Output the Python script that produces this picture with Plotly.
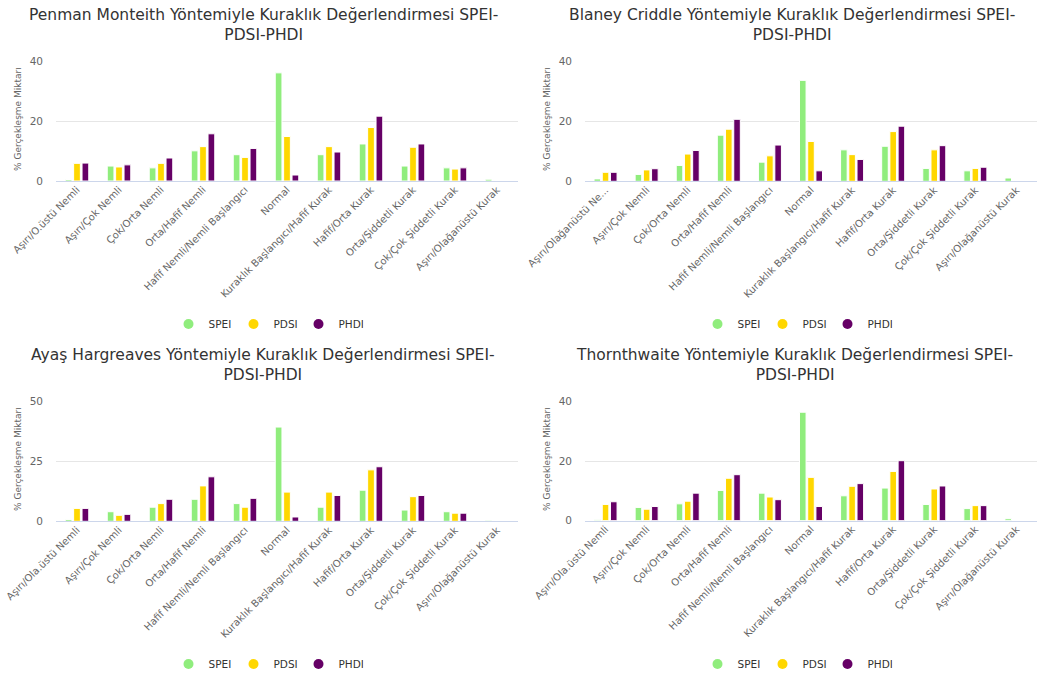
import plotly.graph_objects as go

W, H = 1038, 677

# ---------------- data ----------------
cats_common = ["Aşırı/Çok Nemli", "Çok/Orta Nemli", "Orta/Hafif Nemli",
               "Hafif Nemli/Nemli Başlangıcı", "Normal",
               "Kuraklık Başlangıcı/Hafif Kurak", "Hafif/Orta Kurak",
               "Orta/Şiddetli Kurak", "Çok/Çok Şiddetli Kurak",
               "Aşırı/Olağanüstü Kurak"]
cats_pm = ["Aşırı/O.üstü Nemli"] + cats_common
cats_bc = ["Aşırı/Olağanüstü Ne..."] + cats_common
cats_ah = ["Aşırı/Ola.üstü Nemli"] + cats_common
cats_th = ["Aşırı/Ola.üstü Nemli"] + cats_common

pm_spei = [0.5, 5.0, 4.4, 10.1, 8.8, 36.2, 8.8, 12.4, 5.0, 4.4, 0.6]
pm_pdsi = [5.9, 4.7, 5.9, 11.5, 7.9, 14.9, 11.5, 17.9, 11.3, 4.0, None]
pm_phdi = [6.0, 5.4, 7.7, 15.8, 10.9, 2.0, 9.7, 21.7, 12.4, 4.4, None]

bc_spei = [0.8, 2.3, 5.3, 15.4, 6.4, 33.7, 10.5, 11.7, 4.3, 3.5, 1.1]
bc_pdsi = [3.0, 3.8, 9.1, 17.4, 8.5, 13.3, 8.9, 16.6, 10.5, 4.3, None]
bc_phdi = [3.0, 4.2, 10.3, 20.7, 12.1, 3.5, 7.3, 18.4, 11.9, 4.7, None]

ah_spei = [0.7, 4.0, 5.9, 9.2, 7.4, 39.4, 5.9, 13.0, 4.7, 4.0, 0.4]
ah_pdsi = [5.4, 2.5, 7.4, 14.8, 5.9, 12.2, 12.2, 21.5, 10.3, 3.4, None]
ah_phdi = [5.4, 2.9, 9.2, 18.6, 9.6, 1.8, 10.8, 22.8, 10.8, 3.4, None]

th_spei = [0.3, 4.4, 5.6, 10.1, 9.2, 36.4, 8.3, 10.9, 5.4, 4.0, 0.6]
th_pdsi = [5.4, 3.8, 6.5, 14.2, 7.9, 14.5, 11.5, 16.5, 10.6, 5.0, None]
th_phdi = [6.3, 4.7, 9.2, 15.4, 7.0, 4.7, 12.4, 20.1, 11.6, 5.0, None]

titles = [
    "Penman Monteith Yöntemiyle Kuraklık Değerlendirmesi SPEI-<br>PDSI-PHDI",
    "Blaney Criddle Yöntemiyle Kuraklık Değerlendirmesi SPEI-<br>PDSI-PHDI",
    "Ayaş Hargreaves Yöntemiyle Kuraklık Değerlendirmesi SPEI-<br>PDSI-PHDI",
    "Thornthwaite Yöntemiyle Kuraklık Değerlendirmesi SPEI-<br>PDSI-PHDI",
]
series_names = ["SPEI", "PDSI", "PHDI"]
y_title = "% Gerçekleşme Miktarı"
y_max = [40, 40, 50, 40]
y_dtick = [20, 20, 25, 20]

# ---------------- styling ----------------
colors = ["#90ed7d", "#ffd700", "#660066"]
FONT = "DejaVu Sans"

def px_x(x):
    return x / W

def px_y(y):
    return 1 - y / H

# panel geometry in pixels: (left, right, top, bottom)
panels = [
    (56, 518, 61.5, 181),
    (585, 1037, 61.5, 181.3),
    (56, 518, 401.7, 521.3),
    (585, 1037, 401.5, 520.5),
]
title_pos = [(263, 4), (792, 4), (263, 344), (794, 344)]
ytitle_pos = [(18, 119), (547, 119), (18, 459), (547, 459)]
legend_pos = [(266, 324), (795, 324), (266, 664), (795, 664)]

data_sets = [
    (cats_pm, [pm_spei, pm_pdsi, pm_phdi]),
    (cats_bc, [bc_spei, bc_pdsi, bc_phdi]),
    (cats_ah, [ah_spei, ah_pdsi, ah_phdi]),
    (cats_th, [th_spei, th_pdsi, th_phdi]),
]

fig = go.Figure()
layout = dict(
    width=W, height=H,
    margin=dict(l=0, r=0, t=0, b=0, autoexpand=False),
    paper_bgcolor="white", plot_bgcolor="white",
    barmode="group", bargap=0.4, bargroupgap=0.2,
    font=dict(family=FONT, color="#666666", size=10),
    annotations=[],
    showlegend=True,
)

for i, (cats, vals) in enumerate(data_sets):
    n = i + 1
    xa = "x" if n == 1 else f"x{n}"
    ya = "y" if n == 1 else f"y{n}"
    lg = "legend" if n == 1 else f"legend{n}"
    for name, v, c in zip(series_names, vals, colors):
        fig.add_trace(go.Bar(
            x=cats, y=v, name=name, xaxis=xa, yaxis=ya,
            marker=dict(color=c, line=dict(color="white", width=1)),
            showlegend=False, offsetgroup=name,
        ))
    for name, c in zip(series_names, colors):
        fig.add_trace(go.Scatter(
            x=[None], y=[None], name=name, xaxis=xa, yaxis=ya,
            mode="markers", marker=dict(color=c, size=10, symbol="circle"),
            legend=lg, showlegend=True, hoverinfo="skip",
        ))
    l, r, t, b = panels[i]
    xkey = "xaxis" if n == 1 else f"xaxis{n}"
    ykey = "yaxis" if n == 1 else f"yaxis{n}"
    layout[xkey] = dict(
        domain=[px_x(l), px_x(r)], anchor=ya, automargin=False,
        type="category", tickangle=-45, showgrid=False,
        showline=True, linecolor="#ccd6eb", linewidth=1,
        ticks="", tickfont=dict(size=10, color="#666666", family=FONT),
        ticklabelstandoff=-2,
        fixedrange=True,
    )
    layout[ykey] = dict(
        domain=[px_y(b), px_y(t)], anchor=xa, automargin=False,
        range=[0, y_max[i]], dtick=y_dtick[i], tick0=0,
        showgrid=True, gridcolor="#e6e6e6", gridwidth=1,
        zeroline=False, showline=False, ticks="",
        ticklabelstandoff=12,
        tickfont=dict(size=10.5, color="#666666", family=FONT),
        fixedrange=True,
    )
    lx, ly = legend_pos[i]
    layout[lg] = dict(
        orientation="h", x=px_x(lx), y=px_y(ly),
        xanchor="center", yanchor="middle",
        entrywidth=20, entrywidthmode="pixels",
        font=dict(size=10.5, color="#333333", family=FONT),
        bgcolor="rgba(0,0,0,0)", itemclick=False, itemdoubleclick=False,
    )
    tx, ty = title_pos[i]
    layout["annotations"].append(dict(
        text=titles[i], x=px_x(tx), y=px_y(ty), xref="paper", yref="paper",
        xanchor="center", yanchor="top", showarrow=False,
        font=dict(size=15.5, color="#333333", family=FONT),
    ))
    yx, yy = ytitle_pos[i]
    layout["annotations"].append(dict(
        text=y_title, x=px_x(yx), y=px_y(yy), xref="paper", yref="paper",
        xanchor="center", yanchor="middle", showarrow=False, textangle=-90,
        font=dict(size=9, color="#666666", family=FONT),
    ))

fig.update_layout(**layout)
fig.write_html(
    "out.html",
    config={"displayModeBar": False},
    post_script="document.body.style.margin='0';document.body.style.overflow='hidden';",
)
